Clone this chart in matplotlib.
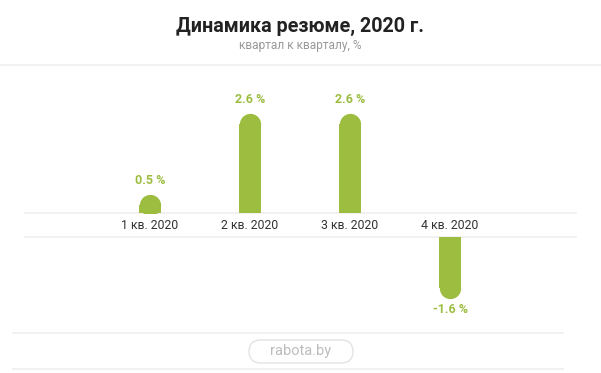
import numpy as np
import matplotlib
matplotlib.use('Agg')
import matplotlib.pyplot as plt
from matplotlib.patches import FancyBboxPatch, Rectangle

plt.rcParams['font.family'] = ['Roboto', 'DejaVu Sans']

# data
quarters = ['1 кв. 2020', '2 кв. 2020', '3 кв. 2020', '4 кв. 2020']
values = [0.5, 2.6, 2.6, -1.6]
value_labels = ['0.5 %', '2.6 %', '2.6 %', '-1.6 %']

green = '#9cbd40'
grid = '#efefef'

W, H = 601, 373
fig = plt.figure(figsize=(W / 100, H / 100), dpi=100)

# decoration layer in pixel coords (y down)
deco = fig.add_axes([0, 0, 1, 1])
deco.set_xlim(0, W)
deco.set_ylim(H, 0)
deco.axis('off')

ax = fig.add_axes([0, 0, 1, 1])
ax.axis('off')

# pixel scale: 100 px between bars, ~38.5 px per percent point, zero line at y=213
px_unit = 38.5
ax.set_xlim(-1.5, -1.5 + W / 100)
ax.set_ylim(-(H - 213) / px_unit, 213 / px_unit)

band = 24 / px_unit      # gap for the category labels below zero
r = 11 / px_unit         # cap radius in data units
bw = 0.22                # bar width (22 px)
ms = 15.3

x = np.arange(len(quarters))
for xi, v, lab, q in zip(x, values, value_labels, quarters):
    if v >= 0:
        base = 0
        ax.bar(xi, max(v - r, 0), width=bw, bottom=base, color=green, linewidth=0)
        dot, = ax.plot(xi, v - r, 'o', ms=ms, color=green, mew=0)
        clip = Rectangle((xi - 1, base), 2, 10, transform=ax.transData)
        ax.text(xi, v + 0.17, lab, ha='center', va='bottom', color=green,
                fontsize=9, fontweight='bold')
    else:
        base = -band
        ax.bar(xi, min(v + r, 0), width=bw, bottom=base, color=green, linewidth=0)
        dot, = ax.plot(xi, base + v + r, 'o', ms=ms, color=green, mew=0)
        clip = Rectangle((xi - 1, base - 10), 2, 10, transform=ax.transData)
        ax.text(xi, base + v - 0.12, lab, ha='center', va='top', color=green,
                fontsize=9, fontweight='bold')
    dot.set_clip_path(clip)
    ax.text(xi, -band / 2, q, ha='center', va='center', color='#333333', fontsize=8.8)


def hline(y, x0, x1):
    deco.plot([x0, x1], [y, y], color=grid, lw=1.2)


hline(65, 0, W)
hline(213, 25, 576)
hline(237, 25, 576)
hline(333, 13, 563)
hline(369, 13, 563)

# title
deco.text(W / 2, 26, 'Динамика резюме, 2020 г.', ha='center', va='center',
          fontsize=14.2, fontweight='bold', color='#222222')
deco.text(W / 2, 46, 'квартал к кварталу, %', ha='center', va='center',
          fontsize=8.6, color='#999999')

# footer badge
box = FancyBboxPatch((249, 340), 104, 23,
                     boxstyle='round,pad=0,rounding_size=11.5',
                     facecolor='white', edgecolor='#e3e3e3', lw=1)
deco.add_patch(box)
deco.text(W / 2, 351, 'rabota.by', ha='center', va='center',
          fontsize=10.5, color='#bdbdbd')

fig.savefig('out.png', dpi=100)
